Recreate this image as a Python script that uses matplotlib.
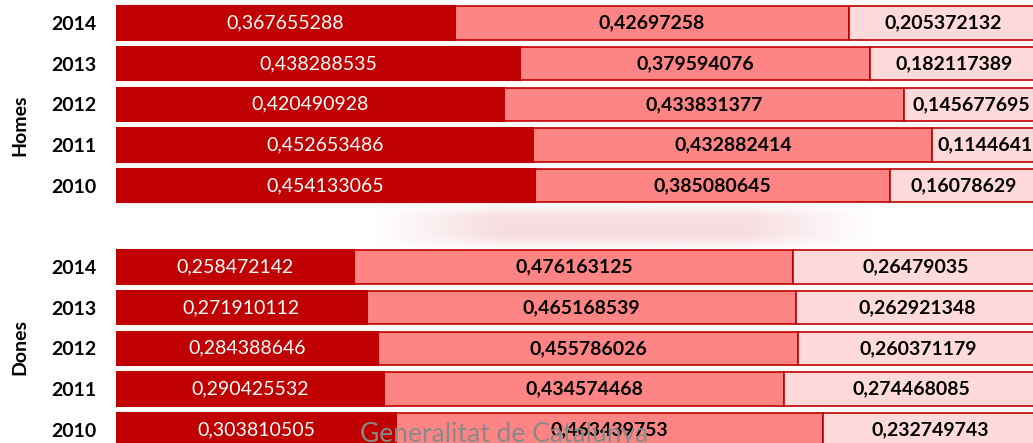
import matplotlib.pyplot as plt
import numpy as np

# values (shares per year)
years = ['2014', '2013', '2012', '2011', '2010']
homes_dark = [0.367655288, 0.438288535, 0.420490928, 0.452653486, 0.454133065]
homes_mid = [0.42697258, 0.379594076, 0.433831377, 0.432882414, 0.385080645]
homes_light = [0.205372132, 0.182117389, 0.145677695, 0.1144641, 0.16078629]
dones_dark = [0.258472142, 0.271910112, 0.284388646, 0.290425532, 0.303810505]
dones_mid = [0.476163125, 0.465168539, 0.455786026, 0.434574468, 0.463439753]
dones_light = [0.26479035, 0.262921348, 0.260371179, 0.274468085, 0.232749743]

plt.rcParams['font.family'] = ['Lato', 'DejaVu Sans']

c_dark = '#C00000'
c_mid = '#FF8585'
c_light = '#FFDADA'

fig = plt.figure(figsize=(10.33, 4.43), dpi=100)
ax = fig.add_axes([116 / 1033, 0, 1 - 116 / 1033, 1])

# soft pink blur of the background logo between the two groups
gx = np.linspace(0, 1, 200)
gy = np.linspace(0, 1, 40)
ax_x = np.clip(np.minimum(gx / 0.25, (1 - gx) / 0.25), 0, 1)
ax_y = np.clip(np.minimum(gy / 0.3, (1 - gy) / 0.3), 0, 1)
blob = np.zeros((40, 200, 4))
blob[..., :3] = np.array([247, 218, 222]) / 255
blob[..., 3] = np.outer(ax_y, ax_x) * 0.9
ax.imshow(blob, extent=(0.28, 0.82, 5.6, 4.4), aspect='auto', zorder=0, interpolation='bilinear')

ypos_h = np.arange(5)
ypos_d = np.arange(5) + 6
h = 0.82


def fmt(v):
    return str(v).replace('.', ',')


for ypos, dark, mid, light in [(ypos_h, homes_dark, homes_mid, homes_light),
                               (ypos_d, dones_dark, dones_mid, dones_light)]:
    dark = np.array(dark)
    mid = np.array(mid)
    light = np.array(light)
    ax.barh(ypos, dark, height=h, color=c_dark, edgecolor=c_dark, linewidth=1.5, zorder=3)
    ax.barh(ypos, mid, left=dark, height=h, color=c_mid, edgecolor=c_dark, linewidth=1.2, zorder=2)
    ax.barh(ypos, light, left=dark + mid, height=h, color=c_light, edgecolor=c_dark, linewidth=1.2, zorder=2)
    for i, y in enumerate(ypos):
        ax.text(dark[i] / 2, y, fmt(dark[i]), color='white', ha='center', va='center',
                fontsize=14, zorder=5)
        ax.text(dark[i] + mid[i] / 2, y, fmt(mid[i]), color='black', ha='center', va='center',
                fontsize=14, fontweight='bold', zorder=5)
        ax.text(dark[i] + mid[i] + light[i] / 2, y, fmt(light[i]), color='black', ha='center',
                va='center', fontsize=14, fontweight='bold', zorder=5)

ax.set_xlim(0, (1033 - 116) / 922)
ax.set_ylim(10.33, -0.565)
ax.set_yticks(list(ypos_h) + list(ypos_d))
ax.set_yticklabels(years + years, fontsize=14, fontweight='bold')
ax.tick_params(axis='y', length=0, pad=14)
ax.set_xticks([])
for s in ax.spines.values():
    s.set_visible(False)

fig.text(20 / 1033, 1 - 125 / 443, 'Homes', rotation=90, ha='center', va='center',
         fontsize=14, fontweight='bold')
fig.text(20 / 1033, 1 - 347 / 443, 'Dones', rotation=90, ha='center', va='center',
         fontsize=14, fontweight='bold')

fig.text(360 / 1033, 1 - 442 / 443, 'Generalitat de Catalunya', color='#8a8a8a',
         ha='left', va='baseline', fontsize=19, zorder=10)

fig.savefig('out.png', dpi=100)
